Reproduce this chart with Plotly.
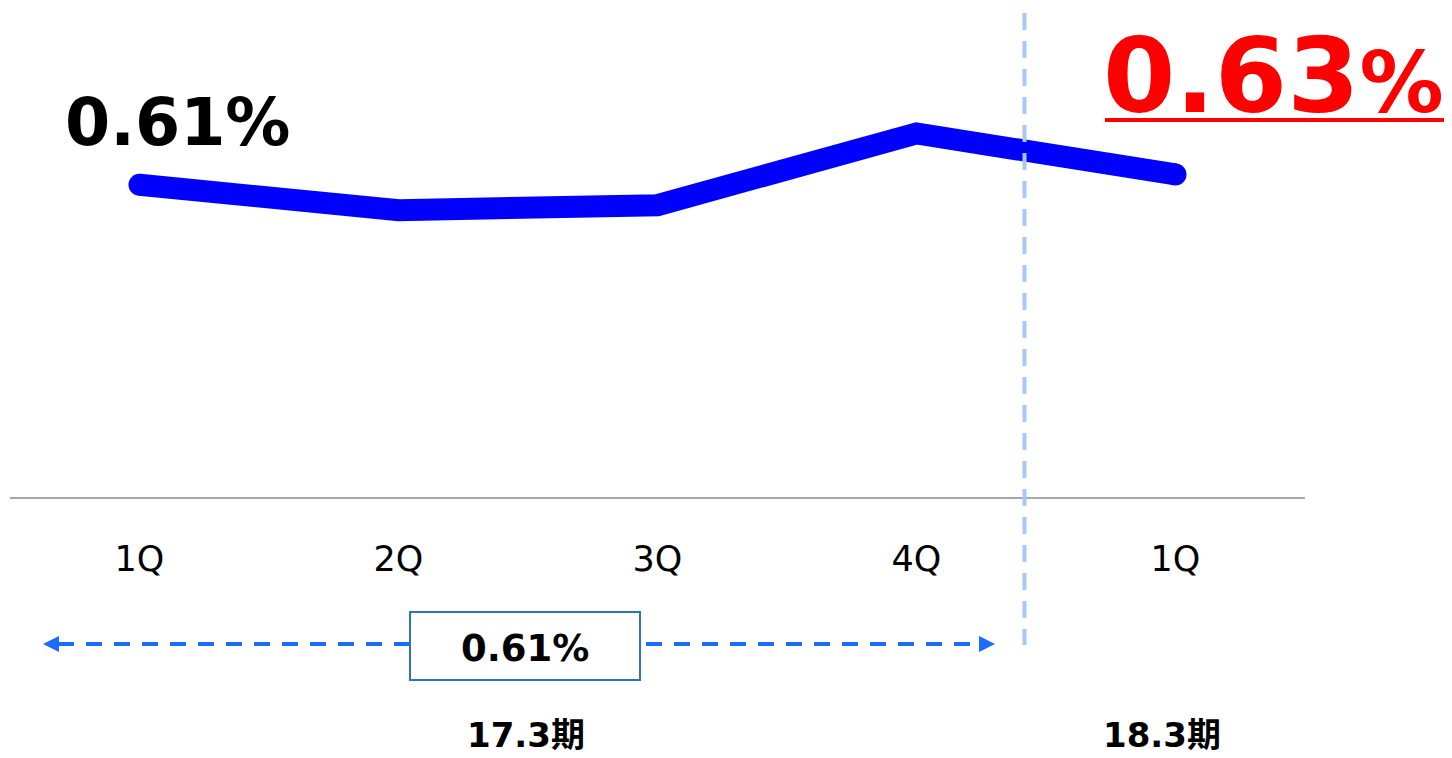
import plotly.graph_objects as go

# ---- data ----
quarters = ["1Q", "2Q", "3Q", "4Q", "1Q"]
periods = ["17.3期", "18.3期"]
ratio = [0.61, 0.56, 0.57, 0.71, 0.63]

x_idx = list(range(len(quarters)))
avg_17 = sum(ratio[:4]) / 4

FONT = "DejaVu Sans, Noto Sans CJK JP, sans-serif"

# page has an 8px body margin; figure is sized/offset accordingly
W, H = 1444, 750
PLOT_L, PLOT_R = 10, 1305      # page px
PLOT_T, PLOT_B = 8, 497        # page px
SCALE = 512                    # px per 1.00 %

fig = go.Figure()
fig.add_trace(go.Scatter(
    x=x_idx, y=ratio, mode="lines",
    line=dict(color="#0000ff", width=22),
    hoverinfo="skip", showlegend=False, cliponaxis=False,
))
# round end caps
fig.add_trace(go.Scatter(
    x=[x_idx[0], x_idx[-1]], y=[ratio[0], ratio[-1]], mode="markers",
    marker=dict(color="#0000ff", size=22, opacity=1, line=dict(width=0)),
    hoverinfo="skip", showlegend=False, cliponaxis=False,
))

def px(xp):
    return (xp - PLOT_L) / (PLOT_R - PLOT_L)

def py(yp):
    return (PLOT_B - yp) / (PLOT_B - PLOT_T)

shapes = []
# vertical dashed separator
shapes.append(dict(type="line", xref="paper", yref="paper",
                   x0=px(1024.5), x1=px(1024.5), y0=py(13), y1=py(645),
                   line=dict(color="#a6c8f8", width=4, dash="17px,11px")))
# dashed arrow line
shapes.append(dict(type="line", xref="paper", yref="paper",
                   x0=px(58), x1=px(980), y0=py(644), y1=py(644),
                   line=dict(color="#1a6cff", width=4, dash="16px,12px")))
# arrowheads
for tip, base in [(43, 59), (995, 979)]:
    shapes.append(dict(type="path", xref="paper", yref="paper",
                       path=f"M {px(tip)} {py(644)} L {px(base)} {py(636)} L {px(base)} {py(652)} Z",
                       fillcolor="#1a6cff", line=dict(width=0)))
# box
shapes.append(dict(type="rect", xref="paper", yref="paper",
                   x0=px(410), x1=px(640), y0=py(612), y1=py(680),
                   fillcolor="white", line=dict(color="#2e75b6", width=2)))
# red underline
shapes.append(dict(type="line", xref="paper", yref="paper",
                   x0=px(1105), x1=px(1450), y0=py(120), y1=py(120),
                   line=dict(color="#ff0000", width=4)))

annotations = [
    dict(x=0, y=ratio[0], xref="x", yref="y", xanchor="left", yanchor="middle",
         xshift=-77, yshift=62, showarrow=False,
         text=f"<b>{ratio[0]:.2f}%</b>", font=dict(family=FONT, size=65, color="#000000")),
    dict(x=4, y=ratio[4], xref="x", yref="y", xanchor="left", yanchor="middle",
         xshift=-75, yshift=98, showarrow=False,
         text=f"<b>{ratio[4]:.2f}<span style='font-size:84px'>%</span></b>",
         font=dict(family=FONT, size=104, color="#ff0000")),
    dict(x=px(525), y=py(648), xref="paper", yref="paper", showarrow=False,
         xanchor="center", yanchor="middle",
         text=f"<b>{avg_17:.2f}%</b>", font=dict(family=FONT, size=37, color="#000000")),
    dict(x=px(526), y=py(735), xref="paper", yref="paper", showarrow=False,
         xanchor="center", yanchor="middle",
         text=f"<b>{periods[0]}</b>", font=dict(family=FONT, size=34, color="#000000")),
    dict(x=px(1162), y=py(735), xref="paper", yref="paper", showarrow=False,
         xanchor="center", yanchor="middle",
         text=f"<b>{periods[1]}</b>", font=dict(family=FONT, size=34, color="#000000")),
]

fig.update_layout(
    width=W, height=H,
    margin=dict(l=PLOT_L - 8, r=W - (PLOT_R - 8), t=PLOT_T - 8, b=H - (PLOT_B - 8), pad=0),
    paper_bgcolor="white", plot_bgcolor="white",
    xaxis=dict(range=[-0.5, 4.5], tickvals=x_idx, ticktext=quarters,
               showline=True, linecolor="#a6a6a6", linewidth=2,
               showgrid=False, zeroline=False, ticks="",
               ticklabelstandoff=30,
               tickfont=dict(family=FONT, size=35, color="#000000"),
               fixedrange=True),
    yaxis=dict(range=[0, (PLOT_B - PLOT_T) / SCALE], visible=False, fixedrange=True),
    shapes=shapes, annotations=annotations,
    showlegend=False,
)

fig.write_html("out.html")
